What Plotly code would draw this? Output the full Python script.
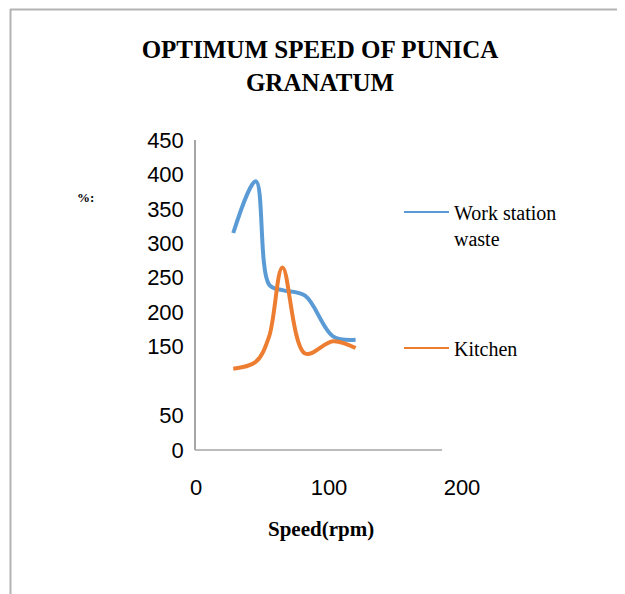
import plotly.graph_objects as go

# ---- data ----
speed = [28, 45, 55, 65, 82, 103, 120]
work_station_waste = [315, 390, 240, 232, 224, 165, 160]
kitchen = [118, 128, 165, 265, 140, 158, 148]

y_tick_vals = [0, 50, 150, 200, 250, 300, 350, 400, 450]
x_tick_vals = [0, 100, 200]

# ---- layout geometry ----
# The html body has an 8px margin, so page coordinates are shifted by OFF.
OFF = 8
W, H = 625 - OFF, 594 - OFF
PL, PR, PT, PB = 196, 462, 140, 450          # plot area in page pixels
L, R, T, B = PL - OFF, W - (PR - OFF), PT - OFF, H - (PB - OFF)
PW, PH = W - L - R, H - T - B


def px(xp):
    """page x pixel -> paper coordinate"""
    return (xp - OFF - L) / PW


def py(yp):
    """page y pixel -> paper coordinate"""
    return (H - B - (yp - OFF)) / PH


BLUE = "#5b9bd5"
ORANGE = "#ed7d31"
AXIS = "#a6a6a6"
SERIF = "Liberation Serif, Times New Roman, serif"
SANS = "Liberation Sans, Arial, sans-serif"

fig = go.Figure()
# data curves (thick, smoothed)
fig.add_trace(go.Scatter(
    x=speed, y=work_station_waste, mode="lines", name="Work station waste",
    line=dict(color=BLUE, width=4, shape="spline", smoothing=1.0),
    showlegend=False,
))
fig.add_trace(go.Scatter(
    x=speed, y=kitchen, mode="lines", name="Kitchen",
    line=dict(color=ORANGE, width=4, shape="spline", smoothing=1.0),
    showlegend=False,
))
# legend entries (thin sample lines as in the reference)
fig.add_trace(go.Scatter(
    x=[None], y=[None], mode="lines", name="Work station<br>waste",
    line=dict(color=BLUE, width=2), legend="legend",
))
fig.add_trace(go.Scatter(
    x=[None], y=[None], mode="lines", name="Kitchen",
    line=dict(color=ORANGE, width=2), legend="legend2",
))

legend_common = dict(
    font=dict(family=SERIF, size=20, color="#000000"),
    bgcolor="rgba(0,0,0,0)", borderwidth=0, itemwidth=45,
    xanchor="left", yanchor="middle", valign="top",
)

fig.update_layout(
    width=W, height=H,
    margin=dict(l=L, r=R, t=T, b=B, autoexpand=False),
    paper_bgcolor="white", plot_bgcolor="white",
    title=dict(
        text="<b>OPTIMUM SPEED OF PUNICA<br>GRANATUM</b>",
        font=dict(family=SERIF, size=25, color="#000000"),
        x=(320 - OFF) / W, xanchor="center", y=1 - (58 - OFF) / H, yanchor="middle",
    ),
    showlegend=True,
    legend=dict(x=px(399), y=py(225), **legend_common),
    legend2=dict(x=px(399), y=py(348), **legend_common),
    xaxis=dict(
        range=[0, 200], tickvals=x_tick_vals, showgrid=False, zeroline=False,
        showline=False, ticks="outside", ticklen=18, tickcolor="rgba(0,0,0,0)",
        tickfont=dict(family=SANS, size=22, color="#000000"),
    ),
    yaxis=dict(
        range=[0, 450], tickvals=y_tick_vals, showgrid=False, zeroline=False,
        showline=True, linecolor=AXIS, linewidth=1.5,
        ticks="outside", ticklen=6, tickcolor="rgba(0,0,0,0)",
        tickfont=dict(family=SANS, size=22, color="#000000"),
    ),
    annotations=[
        dict(text="<b>Speed(rpm)</b>", xref="paper", yref="paper",
             x=px(321), y=py(529), xanchor="center", yanchor="middle",
             showarrow=False, font=dict(family=SERIF, size=21, color="#000000")),
        dict(text="<b>%:</b>", xref="paper", yref="paper",
             x=px(85), y=py(197), xanchor="center", yanchor="middle",
             showarrow=False, font=dict(family=SERIF, size=13, color="#000000")),
    ],
    shapes=[
        # x axis line (shorter than the plot area, as in the reference)
        dict(type="line", xref="paper", yref="paper", x0=px(195), x1=px(442),
             y0=0, y1=0, line=dict(color=AXIS, width=1.5)),
        # outer frame: top and left
        dict(type="line", xref="paper", yref="paper", x0=px(10), x1=px(625),
             y0=py(9.5), y1=py(9.5), line=dict(color="#b3b3b3", width=2)),
        dict(type="line", xref="paper", yref="paper", x0=px(10.5), x1=px(10.5),
             y0=py(9), y1=py(594), line=dict(color="#b3b3b3", width=2)),
        # blue corner fragment top right
        dict(type="path", xref="paper", yref="paper",
             path=f"M {px(606)} {py(0)} L {px(625)} {py(0)} L {px(625)} {py(4)} L {px(600)} {py(4)} Z",
             fillcolor="#7fb2e0", line=dict(width=0)),
    ],
)

fig.write_html("out.html")
